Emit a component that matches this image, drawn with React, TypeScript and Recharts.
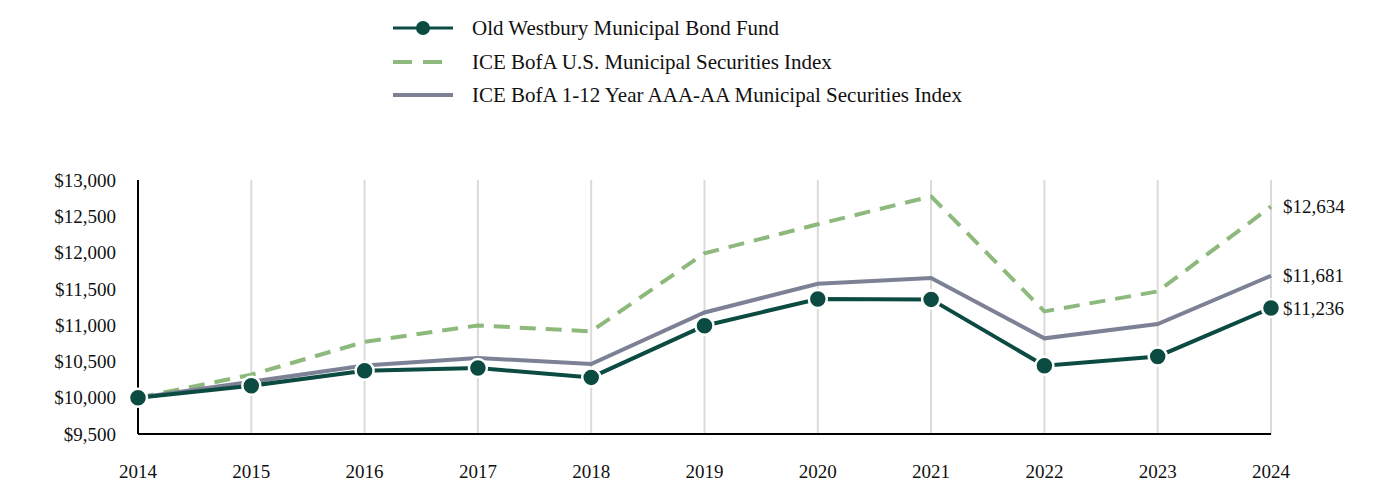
import React from 'react';
import { LineChart, Line, XAxis, YAxis, CartesianGrid } from 'recharts';

const years = ['2014', '2015', '2016', '2017', '2018', '2019', '2020', '2021', '2022', '2023', '2024'];
const fundValues = [10000, 10165, 10372, 10409, 10280, 10992, 11360, 11355, 10441, 10569, 11236];
const broadIndexValues = [10000, 10317, 10770, 10996, 10914, 11990, 12390, 12774, 11190, 11465, 12634];
const shortIndexValues = [10000, 10220, 10445, 10547, 10464, 11175, 11571, 11649, 10818, 11015, 11681];
const yTicks = [9500, 10000, 10500, 11000, 11500, 12000, 12500, 13000];

const seriesNames = [
  'Old Westbury Municipal Bond Fund',
  'ICE BofA U.S. Municipal Securities Index',
  'ICE BofA 1-12 Year AAA-AA Municipal Securities Index',
];

const FUND = '#0c4b41';
const BROAD = '#8db97c';
const SHORT = '#7c8195';
const FONT = '"Liberation Serif", "Times New Roman", serif';

const data = years.map((y, i) => ({
  year: y,
  fund: fundValues[i],
  broad: broadIndexValues[i],
  short: shortIndexValues[i],
}));

const fmt = (v: number) => `$${v.toLocaleString('en-US')}`;
const lastIdx = years.length - 1;

const endLabel = (props: any) => {
  if (props.index !== lastIdx) return <g />;
  return (
    <text x={props.x + 12} y={props.y} dy="0.355em" textAnchor="start" fontSize={19} fontFamily={FONT} fill="#111">
      {fmt(props.value)}
    </text>
  );
};

const Legend = () => (
  <div style={{ position: 'absolute', left: 0, top: 0, width: 1376, height: 120, pointerEvents: 'none' }}>
    <svg width={1376} height={120} style={{ position: 'absolute', left: 0, top: 0 }}>
      <line x1={385} x2={445} y1={20} y2={20} stroke={FUND} strokeWidth={3} />
      <circle cx={415} cy={20} r={7} fill={FUND} />
      <line x1={385} x2={445} y1={54} y2={54} stroke={BROAD} strokeWidth={4} strokeDasharray="19 11" />
      <line x1={385} x2={445} y1={87} y2={87} stroke={SHORT} strokeWidth={4} />
      {seriesNames.map((n, i) => (
        <text key={n} x={464} y={[20, 54, 87][i]} dy="0.355em" fontSize={21} fontFamily={FONT} fill="#111">
          {n}
        </text>
      ))}
    </svg>
  </div>
);

export default function App() {
  return (
    <div style={{ position: 'relative', width: 1376, height: 488, background: '#fff' }}>
      <Legend />
      <LineChart width={1376} height={488} data={data} margin={{ top: 172, right: 113, bottom: 0, left: 0 }}>
        <CartesianGrid vertical horizontal={false} stroke="#dadada" strokeWidth={2} />
        <XAxis
          dataKey="year"
          padding={{ left: 0, right: 0 }}
          height={62}
          axisLine={{ stroke: '#000', strokeWidth: 2 }}
          tickLine={false}
          tickSize={6}
          tickMargin={25}
          tick={{ fontSize: 19, fontFamily: FONT, fill: '#111' }}
          interval={0}
        />
        <YAxis
          width={130}
          domain={[9500, 13000]}
          ticks={yTicks}
          tickFormatter={fmt}
          axisLine={{ stroke: '#000', strokeWidth: 2 }}
          tickLine={false}
          tickSize={6}
          tickMargin={16}
          tick={{ fontSize: 19, fontFamily: FONT, fill: '#111' }}
          allowDataOverflow
          interval={0}
        />
        <Line
          dataKey="broad"
          stroke={BROAD}
          strokeWidth={4}
          strokeDasharray="16 10"
          dot={false}
          activeDot={false}
          isAnimationActive={false}
          label={endLabel}
        />
        <Line
          dataKey="short"
          stroke={SHORT}
          strokeWidth={4}
          dot={false}
          activeDot={false}
          isAnimationActive={false}
          label={endLabel}
        />
        <Line
          dataKey="fund"
          stroke={FUND}
          strokeWidth={4}
          dot={{ r: 9, fill: FUND, stroke: '#fff', strokeWidth: 2.5 }}
          activeDot={false}
          isAnimationActive={false}
          label={endLabel}
        />
      </LineChart>
    </div>
  );
}
